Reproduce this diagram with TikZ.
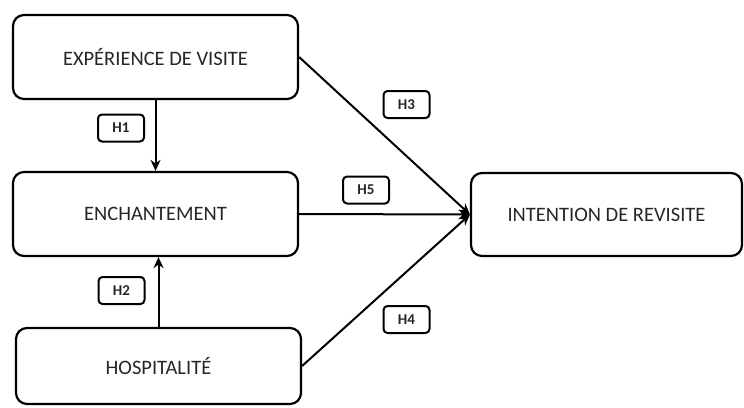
\documentclass[tikz,border=0pt]{standalone}
\usepackage{fontspec}
\setmainfont{Carlito}
\usetikzlibrary{arrows.meta}
\begin{document}
\begin{tikzpicture}[x=1pt,y=-1pt,
  bigbox/.style={draw, line width=2.2pt, rounded corners=11pt, inner sep=0pt,
    minimum width=285pt, minimum height=84pt, font=\fontsize{20.5}{24}\selectfont, text=black!85},
  hbox/.style={draw, line width=2pt, rounded corners=4pt, inner sep=0pt,
    minimum width=46pt, minimum height=27pt, font=\fontsize{15}{17}\selectfont\bfseries, text=black!85},
  conn/.style={line width=2pt, -{Stealth[length=11pt,width=10pt]}}]
\useasboundingbox (0,0) rectangle (744,407);
\node[bigbox] (exp) at (155.5,57) {EXPÉRIENCE DE VISITE};
\node[bigbox] (ench) at (155.5,214) {ENCHANTEMENT};
\node[bigbox, minimum height=76pt] (hosp) at (158.5,366) {HOSPITALITÉ};
\node[bigbox, minimum width=271pt, minimum height=83pt] (int) at (606.5,214.5) {INTENTION DE REVISITE};
\node[hbox] (h1) at (121,128) {H1};
\node[hbox] (h2) at (121.5,290.5) {H2};
\node[hbox] (h3) at (406.5,104.5) {H3};
\node[hbox] (h5) at (366,190) {H5};
\node[hbox] (h4) at (406.5,319.5) {H4};
\draw[conn] (exp.south) -- (ench.north);
\draw[conn] (hosp.north) -- (hosp.north |- ench.south);
\draw[conn] (exp.east) -- (int.west);
\draw[conn] (ench.east) -- (int.west);
\draw[conn] (hosp.east) -- (int.west);
\end{tikzpicture}
\end{document}
